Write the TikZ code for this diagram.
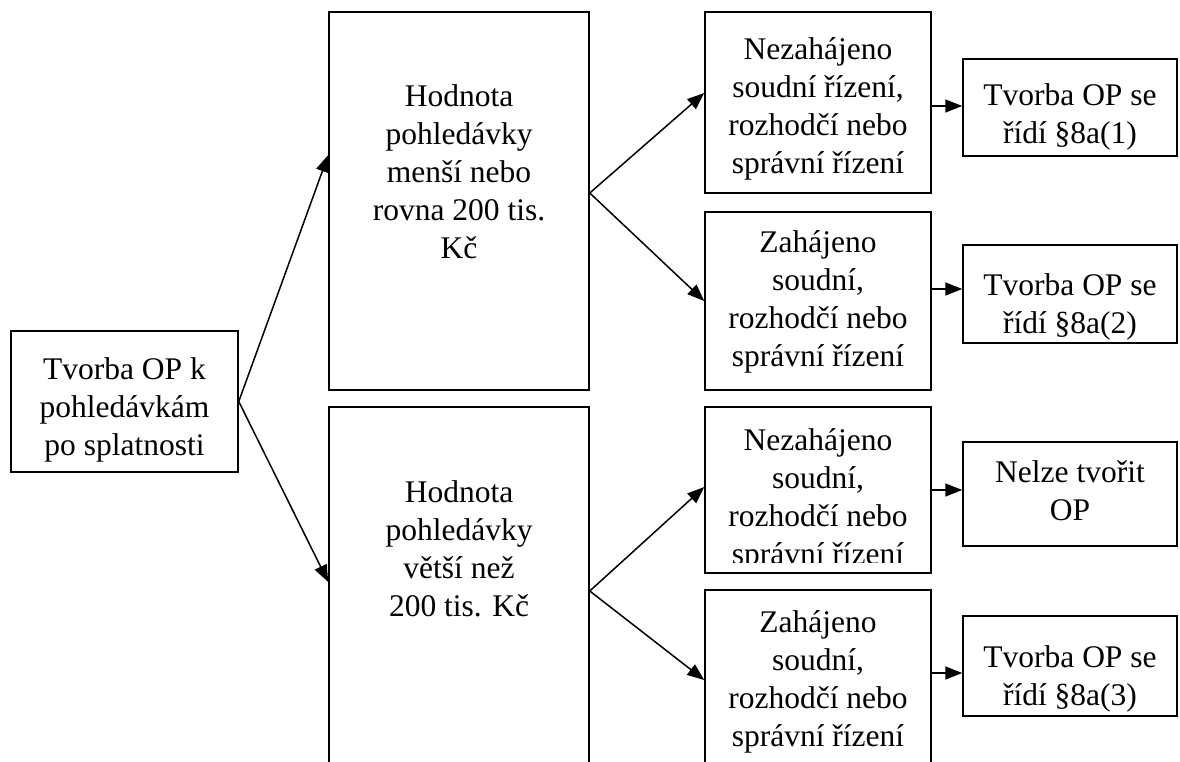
\documentclass[tikz,border=0pt]{standalone}
\usepackage{fontspec}
\setmainfont{Liberation Serif}
\usetikzlibrary{arrows.meta}
\newcommand\mylines[1]{\begin{tabular}[t]{@{}c@{}}#1\end{tabular}}
\tikzset{
  box/.style={draw, line width=1.5pt, rectangle, inner sep=0pt},
  lbl/.style={inner sep=0pt, anchor=base, font=\fontsize{31.5}{38}\selectfont},
  arr/.style={line width=1.5pt, -{Triangle[length=17pt,width=13pt]}},
}
\begin{document}
\begin{tikzpicture}[x=1pt,y=-1pt]
\useasboundingbox (0,0) rectangle (1180,762);
% boxes
\node[box, minimum width=227pt, minimum height=141pt] (L) at (124.5,401.5) {};
\node[box, minimum width=260pt, minimum height=378pt] (M1) at (459,201) {};
\node[box, minimum width=260pt, minimum height=368pt] (M2) at (459,591) {};
\node[box, minimum width=226pt, minimum height=181pt] (C1a) at (818,102.5) {};
\node[box, minimum width=226pt, minimum height=178pt] (C1b) at (818,301) {};
\node[box, minimum width=226pt, minimum height=166pt] (C1c) at (818,490) {};
\node[box, minimum width=226pt, minimum height=185pt] (C1d) at (818,682.5) {};
\node[box, minimum width=214pt, minimum height=97pt] (C2a) at (1070,107.5) {};
\node[box, minimum width=214pt, minimum height=98pt] (C2b) at (1070,294) {};
\node[box, minimum width=214pt, minimum height=104pt] (C2c) at (1070,494) {};
\node[box, minimum width=214pt, minimum height=100pt] (C2d) at (1070,666) {};
% texts
\node[lbl] (tL) at (124.5,379) {\mylines{Tvorba OP k\\pohledávkám\\po splatnosti}};
\node[lbl] (tM1) at (459,107) {\mylines{Hodnota\\pohledávky\\menší nebo\\rovna 200 tis.\\Kč}};
\node[lbl] (tM2) at (459,502) {\mylines{Hodnota\\pohledávky\\větší než\\200 tis. Kč}};
\node[lbl] (tC1a) at (818,60) {\mylines{Nezahájeno\\soudní řízení,\\rozhodčí nebo\\správní řízení}};
\node[lbl] (tC1b) at (818,252) {\mylines{Zahájeno\\soudní,\\rozhodčí nebo\\správní řízení}};
\begin{scope}
\clip (705,407) rectangle (931,562);
\node[lbl] (tC1c) at (818,450) {\mylines{Nezahájeno\\soudní,\\rozhodčí nebo\\správní řízení}};
\end{scope}
\node[lbl] (tC1d) at (818,632) {\mylines{Zahájeno\\soudní,\\rozhodčí nebo\\správní řízení}};
\node[lbl] (tC2a) at (1070,106) {\mylines{Tvorba OP se\\řídí §8a(1)}};
\node[lbl] (tC2b) at (1070,295) {\mylines{Tvorba OP se\\řídí §8a(2)}};
\node[lbl] (tC2c) at (1070,482) {\mylines{Nelze tvořit\\OP}};
\node[lbl] (tC2d) at (1070,667) {\mylines{Tvorba OP se\\řídí §8a(3)}};
% connectors
\draw[arr] (L.east) -- ([yshift=46pt]M1.west);
\draw[arr] (L.east) -- ([yshift=9pt]M2.west);
\draw[arr] ([yshift=8pt]M1.east) -- ([yshift=9.5pt]C1a.west);
\draw[arr] ([yshift=8pt]M1.east) -- (C1b.west);
\draw[arr] (M2.east) -- ([yshift=3pt]C1c.west);
\draw[arr] (M2.east) -- ([yshift=2.5pt]C1d.west);
\draw[arr] ([yshift=1.5pt]C2a.west -| C1a.east) -- ([yshift=1.5pt]C2a.west);
\draw[arr] ([yshift=5pt]C2b.west -| C1b.east) -- ([yshift=5pt]C2b.west);
\draw[arr] ([yshift=4pt]C2c.west -| C1c.east) -- ([yshift=4pt]C2c.west);
\draw[arr] ([yshift=-7pt]C2d.west -| C1d.east) -- ([yshift=-7pt]C2d.west);
\end{tikzpicture}
\end{document}
